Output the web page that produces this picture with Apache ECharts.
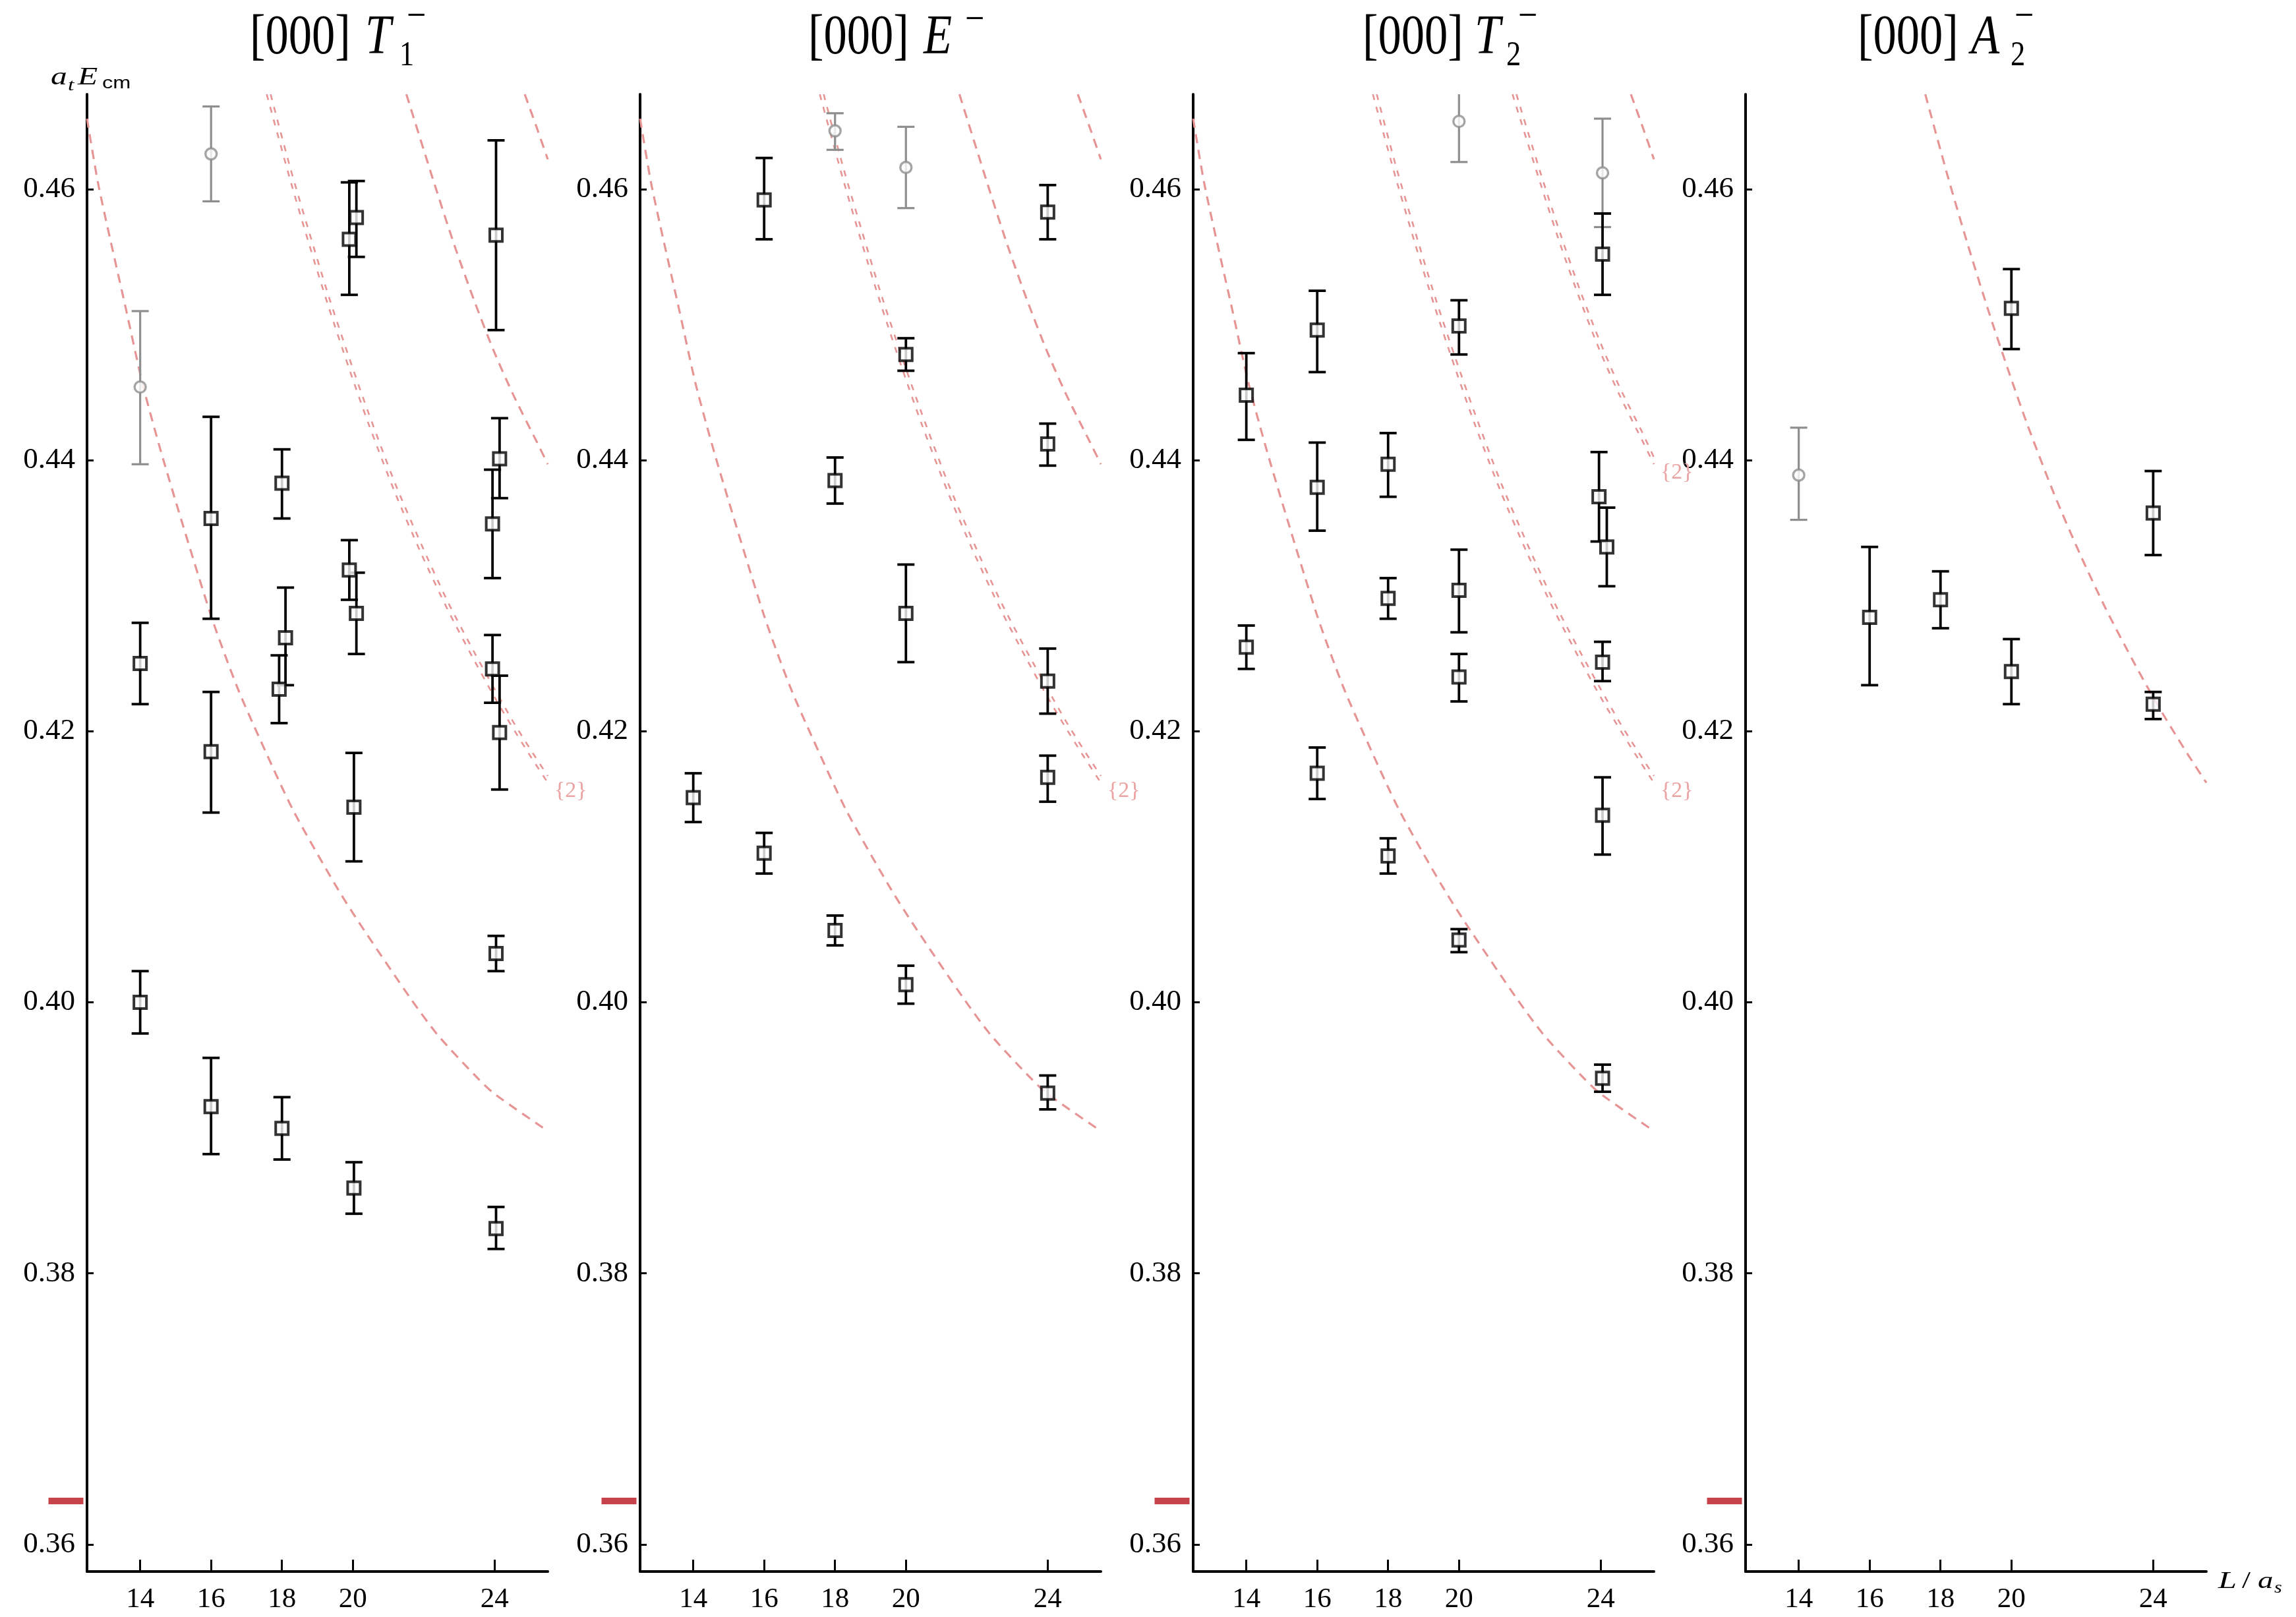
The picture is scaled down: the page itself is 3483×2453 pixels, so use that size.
<!DOCTYPE html>
<html><head><meta charset="utf-8">
<script src="https://cdn.jsdelivr.net/npm/echarts@6/dist/echarts.min.js"></script>
<style>html,body{margin:0;padding:0;background:#fff}#c{width:3483px;height:2453px}</style>
</head><body><div id="c"></div>
<script>
// ---------------- DATA ----------------
const xTicks = [14, 16, 18, 20, 24];
const yTicks = [0.36, 0.38, 0.40, 0.42, 0.44, 0.46];
const thresholdE = 0.3632;

// points: [L/a_s, a_t E_cm, lower, upper]
const T1_black = [
  [19.90, 0.4563, 0.4522, 0.4605], [20.10, 0.4579, 0.4550, 0.4606],
  [24.04, 0.4566, 0.4496, 0.4636], [24.14, 0.4401, 0.4372, 0.4431],
  [23.94, 0.4353, 0.4313, 0.4393], [16.00, 0.4357, 0.4283, 0.4432],
  [18.00, 0.4383, 0.4357, 0.4408], [18.10, 0.4269, 0.4234, 0.4306],
  [17.92, 0.4231, 0.4206, 0.4256], [19.90, 0.4319, 0.4297, 0.4341],
  [20.10, 0.4287, 0.4257, 0.4317], [14.00, 0.4250, 0.4220, 0.4280],
  [23.94, 0.4246, 0.4221, 0.4271], [24.14, 0.4199, 0.4157, 0.4241],
  [16.00, 0.4185, 0.4140, 0.4229], [20.03, 0.4144, 0.4104, 0.4184],
  [24.04, 0.4036, 0.4023, 0.4049], [14.00, 0.4000, 0.3977, 0.4023],
  [16.00, 0.3923, 0.3888, 0.3959], [18.00, 0.3907, 0.3884, 0.3930],
  [20.03, 0.3863, 0.3844, 0.3882], [24.04, 0.3833, 0.3818, 0.3849]
];
const T1_gray = [[14.0, 0.4454, 0.4397, 0.4510], [16.0, 0.4626, 0.4591, 0.4661]];

const E_black = [
  [16.0, 0.4592, 0.4563, 0.4623], [24.0, 0.4583, 0.4563, 0.4603],
  [20.0, 0.4478, 0.4466, 0.4490], [24.0, 0.4412, 0.4396, 0.4427],
  [18.0, 0.4385, 0.4368, 0.4402], [20.0, 0.4287, 0.4251, 0.4323],
  [24.0, 0.4237, 0.4213, 0.4261], [24.0, 0.4166, 0.4148, 0.4182],
  [14.0, 0.4151, 0.4133, 0.4169], [16.0, 0.4110, 0.4095, 0.4125],
  [18.0, 0.4053, 0.4042, 0.4064], [20.0, 0.4013, 0.3999, 0.4027],
  [24.0, 0.3933, 0.3921, 0.3946]
];
const E_gray = [[18.0, 0.4643, 0.4629, 0.4656], [20.0, 0.4616, 0.4586, 0.4646]];

const T2_black = [
  [24.05, 0.4552, 0.4522, 0.4582], [20.0, 0.4499, 0.4478, 0.4518],
  [16.0, 0.4496, 0.4465, 0.4525], [14.0, 0.4448, 0.4415, 0.4479],
  [16.0, 0.4380, 0.4348, 0.4413], [18.0, 0.4397, 0.4373, 0.4420],
  [23.95, 0.4373, 0.4340, 0.4406], [24.17, 0.4336, 0.4307, 0.4365],
  [18.0, 0.4298, 0.4283, 0.4313], [20.0, 0.4304, 0.4273, 0.4334],
  [14.0, 0.4262, 0.4246, 0.4278], [20.0, 0.4240, 0.4222, 0.4257],
  [24.05, 0.4251, 0.4237, 0.4266], [16.0, 0.4169, 0.4150, 0.4188],
  [24.05, 0.4138, 0.4109, 0.4166], [18.0, 0.4108, 0.4095, 0.4121],
  [20.0, 0.4046, 0.4037, 0.4054], [24.05, 0.3944, 0.3934, 0.3954]
];
const T2_gray = [[20.0, 0.4650, 0.4620, 0.4680], [24.05, 0.4612, 0.4572, 0.4652]];

const A2_black = [
  [16.0, 0.4284, 0.4234, 0.4336], [18.0, 0.4297, 0.4276, 0.4318],
  [20.0, 0.4512, 0.4482, 0.4541], [20.0, 0.4244, 0.4220, 0.4268],
  [24.0, 0.4361, 0.4330, 0.4392], [24.0, 0.4220, 0.4209, 0.4229]
];
const A2_gray = [[14.0, 0.4389, 0.4356, 0.4424]];

// non-interacting curves
const curveA_L = [12.5, 12.83, 13.62, 14.08, 14.69, 15.99, 16.73, 17.33, 18.31, 19.52, 20.17, 21.65, 22.39, 23.41, 23.97, 25.5];
const curveA_E = [0.4652, 0.4602, 0.4509, 0.4455, 0.4397, 0.4286, 0.4233, 0.4197, 0.4142, 0.4086, 0.4059, 0.4002, 0.3976, 0.3947, 0.3933, 0.3905];
const curveB1_L = [17.57, 18.22, 18.77, 19.33, 19.89, 20.44, 21.19, 21.93, 22.67, 23.41, 24.0, 24.5, 25.0, 25.5];
const curveB1_E = [0.4670, 0.4608, 0.4559, 0.4512, 0.4468, 0.4427, 0.4376, 0.4331, 0.4290, 0.4253, 0.4225, 0.4203, 0.4182, 0.4162];
const curveB2_L = [17.68, 18.22, 18.77, 19.33, 19.89, 20.44, 21.19, 21.93, 22.67, 23.41, 24.0, 24.5, 25.0, 25.5];
const curveB2_E = [0.4670, 0.4617, 0.4568, 0.4520, 0.4476, 0.4435, 0.4383, 0.4338, 0.4296, 0.4259, 0.4231, 0.4208, 0.4187, 0.4167];
const curveC1_L = [21.51, 22.30, 22.86, 23.42, 23.97, 24.53, 25.18, 25.5];
const curveC1_E = [0.4670, 0.4604, 0.4559, 0.4518, 0.4481, 0.4448, 0.4414, 0.4397];
const curveC2_L = [21.62, 22.30, 22.86, 23.42, 23.97, 24.53, 25.18, 25.5];
const curveC2_E = [0.4670, 0.4612, 0.4567, 0.4525, 0.4488, 0.4454, 0.4420, 0.4402];
const curveD_L = [24.85, 25.18, 25.5];
const curveD_E = [0.4670, 0.4646, 0.4622];

// ---------------- STYLE / LAYOUT ----------------
const SERIF = "Liberation Serif, Times New Roman, serif";
const PINK = '#e69494';
const GRAY = '#8e8e8e';
const lefts = [132, 971, 1810, 2648];
const GW = 699, GTOP = 143, GH = 2241;

const curves = {
  A: [curveA_L, curveA_E], B1: [curveB1_L, curveB1_E], B2: [curveB2_L, curveB2_E],
  C1: [curveC1_L, curveC1_E], C2: [curveC2_L, curveC2_E], D: [curveD_L, curveD_E]
};
const panels = [
  {black: T1_black, gray: T1_gray, curves: [['A', 's'], ['B1', 'd', true], ['B2', 'd'], ['C1', 's'], ['D', 's']]},
  {black: E_black, gray: E_gray, curves: [['A', 's'], ['B1', 'd', true], ['B2', 'd'], ['C1', 's'], ['D', 's']]},
  {black: T2_black, gray: T2_gray, curves: [['A', 's'], ['B1', 'd', true], ['B2', 'd'], ['C1', 'd', true], ['C2', 'd'], ['D', 's']]},
  {black: A2_black, gray: A2_gray, curves: [['B1', 's']]}
];

function errRender(color, lw) {
  return function (params, api) {
    const L = api.value(0);
    const top = api.coord([L, api.value(3)]);
    const bot = api.coord([L, api.value(2)]);
    const hw = 13;
    const st = {stroke: color, lineWidth: lw};
    return {type: 'group', children: [
      {type: 'line', shape: {x1: top[0], y1: top[1], x2: bot[0], y2: bot[1]}, style: st},
      {type: 'line', shape: {x1: top[0] - hw, y1: top[1], x2: top[0] + hw, y2: top[1]}, style: st},
      {type: 'line', shape: {x1: bot[0] - hw, y1: bot[1], x2: bot[0] + hw, y2: bot[1]}, style: st}
    ]};
  };
}

const grid = [], xAxis = [], yAxis = [], series = [];
panels.forEach((p, i) => {
  grid.push({left: lefts[i], top: GTOP, width: GW, height: GH, containLabel: false});
  xAxis.push({
    type: 'value', gridIndex: i, min: 12.5, max: 25.5,
    axisLine: {show: true, onZero: false, lineStyle: {color: '#000', width: 4}},
    axisTick: {show: true, inside: true, length: 18, customValues: xTicks, lineStyle: {color: '#000', width: 3}},
    axisLabel: {show: true, customValues: xTicks, fontSize: 43, fontFamily: SERIF, color: '#000', margin: 21},
    splitLine: {show: false}
  });
  yAxis.push({
    type: 'value', gridIndex: i, min: 0.358, max: 0.467,
    axisLine: {show: true, lineStyle: {color: '#000', width: 4}},
    axisTick: {show: true, inside: true, length: 10, customValues: yTicks, lineStyle: {color: '#000', width: 3}},
    axisLabel: {show: true, customValues: yTicks, formatter: v => v.toFixed(2), fontSize: 45, fontFamily: SERIF, color: '#000', margin: 18},
    splitLine: {show: false}
  });
  p.curves.forEach(([key, kind, lab]) => {
    const [Ls, Es] = curves[key];
    series.push({
      type: 'line', xAxisIndex: i, yAxisIndex: i, silent: true, z: 1,
      data: Ls.map((l, k) => [l, Es[k]]),
      showSymbol: false, symbol: 'none', smooth: 0.25, clip: true,
      lineStyle: {color: PINK, width: kind === 'd' ? 2.6 : 3.2, type: kind === 'd' ? [9, 11] : [14, 10]},
      endLabel: lab ? {show: true, formatter: () => '{2}', color: '#eba3a3', fontSize: 34, fontFamily: SERIF, distance: 10, offset: [0, 13]} : {show: false}
    });
  });
  series.push({type: 'custom', xAxisIndex: i, yAxisIndex: i, clip: true, z: 3, silent: true,
    data: p.gray, encode: {x: 0, y: 1}, renderItem: errRender(GRAY, 3.2)});
  series.push({type: 'custom', xAxisIndex: i, yAxisIndex: i, clip: true, z: 3, silent: true,
    data: p.black, encode: {x: 0, y: 1}, renderItem: errRender('#000', 3.8)});
  series.push({type: 'scatter', xAxisIndex: i, yAxisIndex: i, z: 4, silent: true,
    data: p.gray.map(d => [d[0], d[1]]), symbol: 'circle', symbolSize: 17,
    itemStyle: {color: '#fff', borderColor: GRAY, borderWidth: 3.4}});
  series.push({type: 'scatter', xAxisIndex: i, yAxisIndex: i, z: 4, silent: true,
    data: p.black.map(d => [d[0], d[1]]), symbol: 'rect', symbolSize: 19,
    itemStyle: {color: '#fff', borderColor: '#000', borderWidth: 4}});
  series.push({type: 'scatter', xAxisIndex: i, yAxisIndex: i, z: 4, silent: true, clip: false,
    data: [[12.5, thresholdE]], symbol: 'rect', symbolSize: [53, 10], symbolOffset: [-32, 0],
    itemStyle: {color: '#b8141f'}});
});

// text pieces (title / axis names)
function T(x, y, text, size, o) {
  o = o || {};
  return {type: 'text', x: x, y: y, scaleX: o.sx || 1, originX: 0, originY: 0, silent: true, z: 100,
    style: {text: text, x: 0, y: 0, fontSize: size, fontFamily: o.ff || SERIF, fontStyle: o.it ? 'italic' : 'normal',
      fill: o.fill || '#000', align: 'left', verticalAlign: 'middle'}};
}
const TS = 0.84;
const graphic = [
  T(379, 59, '[000]', 84, {sx: TS}), T(554, 59, 'T', 84, {sx: TS, it: true}), T(617, 27, '\u2212', 62, {sx: TS}), T(606, 85, '1', 53, {sx: TS}),
  T(1226, 59, '[000]', 84, {sx: TS}), T(1401, 59, 'E', 84, {sx: TS, it: true}), T(1464, 32, '\u2212', 62, {sx: TS}),
  T(2067, 59, '[000]', 84, {sx: TS}), T(2237, 59, 'T', 84, {sx: TS, it: true}), T(2303, 27, '\u2212', 62, {sx: TS}), T(2285, 85, '2', 53, {sx: TS}),
  T(2818, 59, '[000]', 84, {sx: TS}), T(2990, 59, 'A', 84, {sx: TS, it: true}), T(3056, 27, '\u2212', 62, {sx: TS}), T(3050, 85, '2', 53, {sx: TS}),
  // y axis name a_t E_cm
  T(77, 118, 'a', 38, {it: true, sx: 1.3}), T(103, 130, 't', 26, {it: true, sx: 1.3}),
  T(118, 118, 'E', 38, {it: true, sx: 1.3}), T(155, 127, 'cm', 26, {sx: 1.25, ff: 'Liberation Sans, Arial, sans-serif'}),
  // x axis name L/a_s
  T(3365, 2400, 'L', 36, {it: true, sx: 1.4}), T(3401, 2400, '/', 36, {sx: 1.3}),
  T(3425, 2400, 'a', 36, {it: true, sx: 1.3}), T(3450, 2409, 's', 25, {it: true, sx: 1.2})
];

const chart = echarts.init(document.getElementById('c'), null, {renderer: 'canvas'});
chart.setOption({animation: false, backgroundColor: '#fff', grid, xAxis, yAxis, series, graphic});
</script></body></html>
